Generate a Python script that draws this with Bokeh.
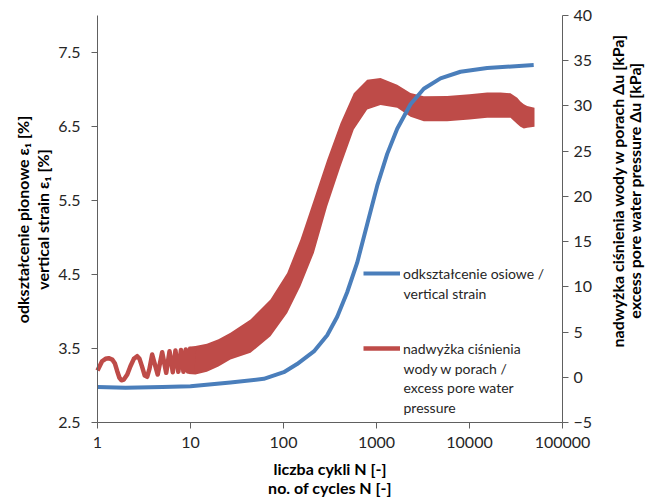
import math
from bokeh.plotting import figure
from bokeh.models import (Range1d, LinearAxis, LogAxis, FixedTicker, PrintfTickFormatter,
                          Legend, LegendItem, Label)
from bokeh.embed import file_html
from bokeh.resources import INLINE

# ---- data ----
# vertical strain [%] vs number of cycles
strain_n = [1, 2, 5, 10, 26.9, 61.4, 100.7, 140, 212, 295, 378, 484, 620, 794, 1018,
            1304, 1670, 2322, 3226, 4877, 8000, 15490, 49000]
strain_v = [2.98, 2.97, 2.98, 2.99, 3.04, 3.09, 3.18, 3.29, 3.46, 3.68, 3.93, 4.26, 4.66,
            5.18, 5.70, 6.13, 6.47, 6.80, 7.01, 7.15, 7.24, 7.29, 7.33]

# excess pore water pressure [kPa] - individual cycles at the start
wave_n = [1.0, 1.12, 1.22, 1.32, 1.44, 1.54, 1.63, 1.72, 1.81, 1.92, 2.09, 2.26, 2.46,
          2.67, 2.83, 3.02, 3.22, 3.42, 3.62, 3.87, 4.44, 4.96, 5.48, 5.95, 6.45, 6.89,
          7.4, 7.9, 8.4, 8.9, 9.4, 9.9, 10.4, 10.9]
wave_u = [0.75, 1.77, 2.04, 2.11, 1.96, 1.52, 0.67, -0.06, -0.33, -0.25, 0.30, 1.22, 2.04,
          2.33, 2.04, 1.15, 0.19, 0.05, 0.93, 2.51, 0.30, 2.77, 0.49, 2.88, 0.56, 2.96,
          0.60, 3.02, 0.62, 3.07, 0.64, 3.12, 0.66, 3.2]

# excess pore water pressure [kPa] - envelope of the dense oscillation
band_n = [9.5, 11.3, 15, 20, 26.9, 44.2, 72.4, 109.6, 152, 212, 295, 410, 570, 794,
          1104, 1670, 2322, 3226, 5750, 10000, 15490, 21530, 27600, 32600, 35300,
          38400, 41700, 50000]
band_hi = [3.38, 3.45, 3.7, 4.2, 4.91, 6.38, 8.59, 11.54, 15.2, 19.64, 24.06, 28.1, 31.4,
           32.9, 33.1, 32.35, 31.43, 31.06, 31.1, 31.3, 31.5, 31.5, 31.4, 30.9, 30.5,
           30.2, 30.0, 29.8]
band_lo = [0.36, 0.3, 0.6, 1.2, 1.96, 2.70, 4.54, 7.12, 10.06, 13.75, 18.9, 23.3, 27.4,
           29.6, 30.1, 29.8, 28.8, 28.3, 28.3, 28.5, 28.7, 28.7, 28.7, 28.0, 27.7,
           27.5, 27.6, 27.7]

x_ticks = [1, 10, 100, 1000, 10000, 100000]
left_ticks = [2.5, 3.5, 4.5, 5.5, 6.5, 7.5]
right_ticks = [-5, 0, 5, 10, 15, 20, 25, 30, 35, 40]

x_title = ["liczba cykli N [-]", "no. of cycles N [-]"]
left_title = ["odkształcenie pionowe ε\u2081 [%]", "vertical strain ε\u2081 [%]"]
right_title = ["nadwyżka ciśnienia wody w porach Δu [kPa]", "excess pore water pressure Δu [kPa]"]
legend_blue = ["odkształcenie osiowe /", "vertical strain"]
legend_red = ["nadwyżka ciśnienia", "wody w porach /", "excess pore water", "pressure"]

BLUE = "#4A7EBB"
RED = "#BE4B48"
FONT = "Lato"
AX = "#606060"
TXT = "#262626"

# ---- geometry: plot box (canvas px) inside a frame covering the whole canvas ----
W, H = 645, 501
PL, PR, PT, PB = 97, 562, 15, 422          # plot box edges in canvas px
X0, X1 = 1, 100000
Y0, Y1 = 2.5, 8.0
K0, K1 = -5, 40

lx0, lx1 = math.log10(X0), math.log10(X1)
xpp = (lx1 - lx0) / (PR - PL)              # decades per px
ypp = (Y1 - Y0) / (PB - PT)
kpp = (K1 - K0) / (PB - PT)
x_range = Range1d(10 ** (lx0 - PL * xpp), 10 ** (lx1 + (W - PR) * xpp))
y_range = Range1d(Y0 - (H - PB) * ypp, Y1 + PT * ypp)
k_range = Range1d(K0 - (H - PB) * kpp, K1 + PT * kpp)


def px_to_data(cx, cy):
    return 10 ** (lx0 + (cx - PL) * xpp), Y0 + (PB - cy) * ypp


p = figure(width=W, height=H, x_axis_type="log", x_range=x_range, y_range=y_range,
           x_axis_location=None, y_axis_location=None,
           output_backend="svg", toolbar_location=None,
           min_border=0, min_border_left=0, min_border_right=0,
           min_border_top=0, min_border_bottom=0)
p.extra_y_ranges = {"kpa": k_range}
p.outline_line_color = None
p.grid.visible = False
p.background_fill_color = "white"
p.border_fill_color = "white"

band = p.varea(x=band_n, y1=band_lo, y2=band_hi, fill_color=RED, y_range_name="kpa")
wave = p.line(wave_n, wave_u, line_color=RED, line_width=4.5, line_join="round",
              y_range_name="kpa")
blue = p.line(strain_n, strain_v, line_color=BLUE, line_width=4, line_join="round")

xa = LogAxis(fixed_location=Y0, bounds=(X0, X1), ticker=FixedTicker(ticks=x_ticks),
             formatter=PrintfTickFormatter(format="%d"))
ya = LinearAxis(fixed_location=X0, bounds=(Y0, Y1), ticker=FixedTicker(ticks=left_ticks))
ka = LinearAxis(fixed_location=X1, bounds=(K0, K1), y_range_name="kpa",
                ticker=FixedTicker(ticks=right_ticks))
p.add_layout(xa, "below")
p.add_layout(ya, "left")
p.add_layout(ka, "right")

for a in [xa, ya, ka]:
    a.axis_line_color = AX
    a.major_tick_line_color = AX
    a.minor_tick_line_color = None
    a.major_tick_out = 6
    a.major_tick_in = 0
    a.major_label_text_font = FONT
    a.major_label_text_font_size = "16px"
    a.major_label_text_color = TXT
    a.major_label_standoff = 8
ya.major_label_standoff = 11
ka.major_label_standoff = 5


def title_label(txt, cx, cy, angle=0.0):
    n, v = px_to_data(cx, cy)
    p.add_layout(Label(x=n, y=v, text=txt, angle=angle, text_font=FONT,
                       text_font_size="16px", text_font_style="bold", text_color="black",
                       text_align="center", text_baseline="middle"))


# axis titles
title_label(x_title[0], 329.5, 468)
title_label(x_title[1], 329.5, 487)
title_label(left_title[0], 22, 219, math.pi / 2)
title_label(left_title[1], 42, 219, math.pi / 2)
title_label(right_title[0], 617, 190, math.pi / 2)
title_label(right_title[1], 634, 190, math.pi / 2)

# ---- legend: swatch + first line via Legend, further lines as labels ----
sw_x0, glyph_w, standoff = 363, 37, 3
line1_blue, line1_red, dy = 273, 348, 19.5   # canvas px of first lines, line step


def legend_at(item, canvas_y):
    lg = Legend(items=[item], location=(sw_x0, H - (canvas_y + 10)))
    lg.background_fill_alpha = 0
    lg.border_line_color = None
    lg.padding = 0
    lg.margin = 0
    lg.glyph_width = glyph_w
    lg.glyph_height = 20
    lg.label_height = 20
    lg.label_standoff = standoff
    lg.label_text_font = FONT
    lg.label_text_font_size = "14px"
    lg.label_text_color = TXT
    p.add_layout(lg, "center")


legend_at(LegendItem(label=legend_blue[0], renderers=[blue]), line1_blue)
legend_at(LegendItem(label=legend_red[0], renderers=[wave]), line1_red)

text_x = sw_x0 + glyph_w + standoff
extra = [(legend_blue[1], line1_blue + dy)] + \
        [(t, line1_red + (i + 1) * dy) for i, t in enumerate(legend_red[1:])]
for txt, cy in extra:
    n, v = px_to_data(text_x, cy)
    p.add_layout(Label(x=n, y=v, text=txt, text_font=FONT, text_font_size="14px",
                       text_color=TXT, text_baseline="middle", text_align="left"))

open("out.html", "w").write(file_html(p, INLINE))
